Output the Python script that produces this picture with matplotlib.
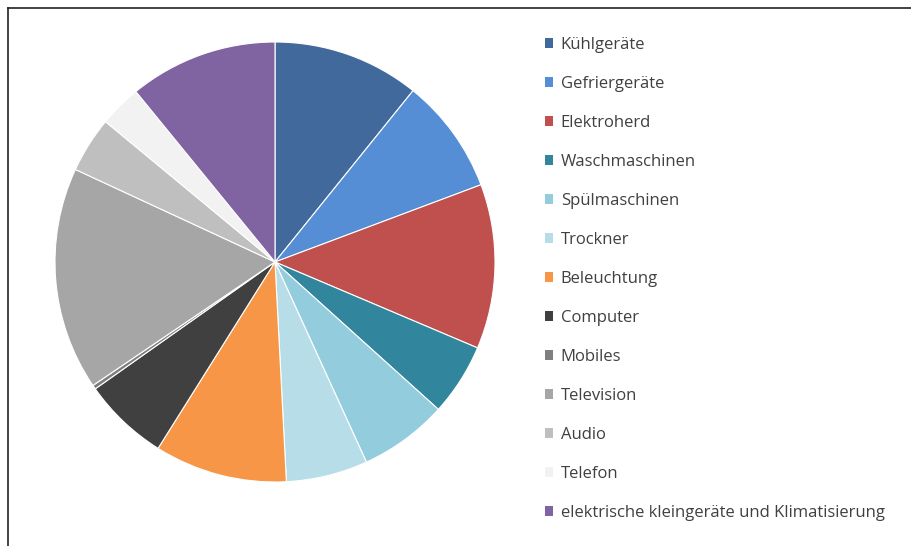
import matplotlib
matplotlib.use("Agg")
import matplotlib.pyplot as plt
from matplotlib.lines import Line2D
from matplotlib.patches import Patch

categories = ["Kühlgeräte", "Gefriergeräte", "Elektroherd", "Waschmaschinen",
              "Spülmaschinen", "Trockner", "Beleuchtung", "Computer", "Mobiles",
              "Television", "Audio", "Telefon",
              "elektrische kleingeräte und Klimatisierung"]
values = [10.8, 8.5, 12.1, 5.3, 6.5, 6.0, 9.75, 6.3, 0.3, 16.4, 4.1, 3.1, 10.9]
colors = ["#41699C", "#558ED5", "#C0504D", "#31859C", "#93CDDD", "#B7DEE8",
          "#F79646", "#404040", "#7F7F7F", "#A6A6A6", "#BFBFBF", "#F2F2F2",
          "#8064A2"]

plt.rcParams['font.family'] = ['Open Sans', 'DejaVu Sans']

fig = plt.figure(figsize=(9.12, 5.46), dpi=100)
ax = fig.add_axes([55/912, 64/546, 440/912, 440/546])
wedges, _ = ax.pie(values, colors=colors, startangle=90, counterclock=False,
                   radius=1.0, wedgeprops=dict(edgecolor="white", linewidth=0.8))
ax.set_xlim(-1, 1)
ax.set_ylim(-1, 1)
ax.set_aspect("equal")
ax.axis("off")

handles = [Patch(facecolor=c, edgecolor="none") for c in colors]
leg = fig.legend(handles, categories, loc="upper left",
                 bbox_to_anchor=(530/912, 1 - 22/546), frameon=False,
                 fontsize=12, handlelength=0.5, handleheight=0.5,
                 handletextpad=0.45, labelspacing=1.38, labelcolor="#404040")

# frame lines (top and left)
fig.add_artist(Line2D([8/912, 1], [1 - 8/546, 1 - 8/546], transform=fig.transFigure,
                      color="#222222", linewidth=1.2))
fig.add_artist(Line2D([8/912, 8/912], [0, 1 - 8/546], transform=fig.transFigure,
                      color="#222222", linewidth=1.2))

fig.savefig("out.png", dpi=100, facecolor="white")
